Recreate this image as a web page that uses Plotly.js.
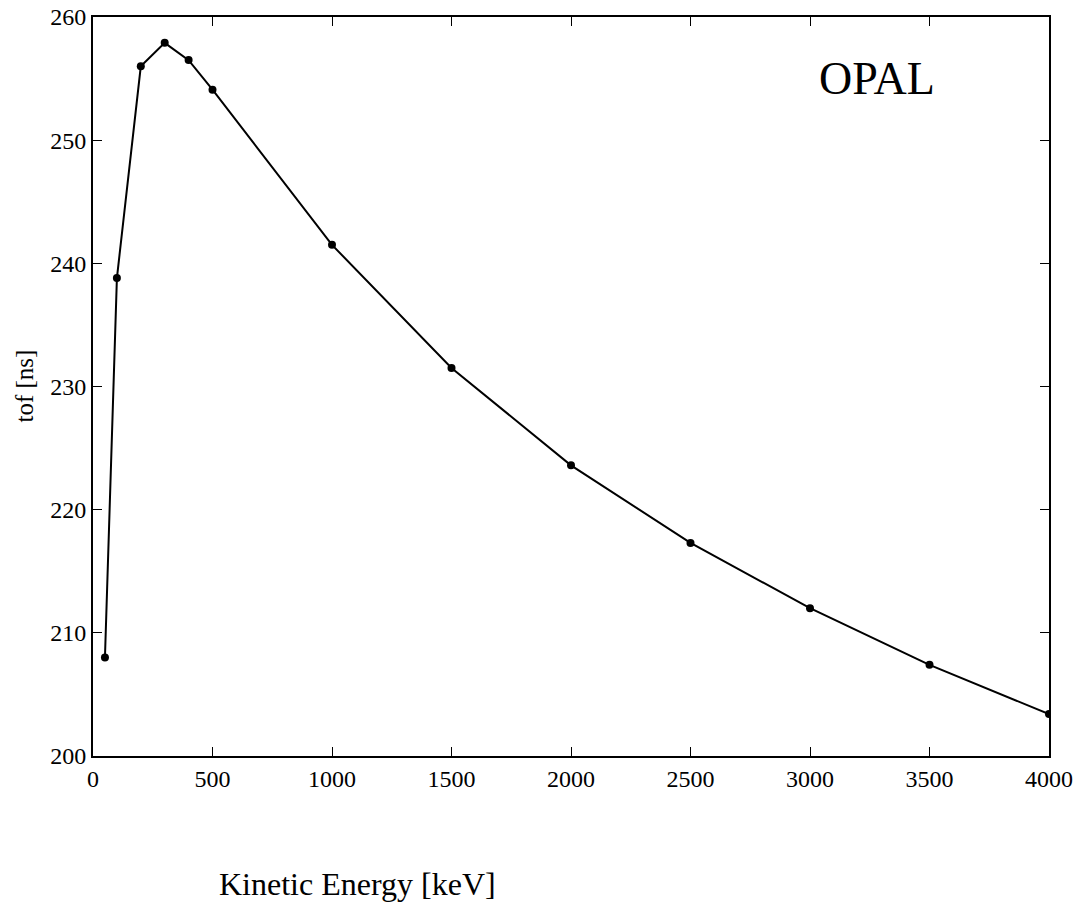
<!DOCTYPE html>
<html>
<head>
<meta charset="utf-8">
<script src="https://cdn.plot.ly/plotly-3.0.1.min.js"></script>
<style>html,body{margin:0;padding:0;background:#fff;}</style>
</head>
<body>
<div id="chart" style="width:1087px;height:902px;"></div>
<script>
const energy_keV = [50, 100, 200, 300, 400, 500, 1000, 1500, 2000, 2500, 3000, 3500, 4000];
const tof_ns = [208.0, 238.8, 256.0, 257.9, 256.5, 254.1, 241.5, 231.5, 223.6, 217.3, 212.0, 207.4, 203.4];
const xTicks = [0, 500, 1000, 1500, 2000, 2500, 3000, 3500, 4000];
const yTicks = [200, 210, 220, 230, 240, 250, 260];

const serif = "Liberation Serif, DejaVu Serif, serif";

const trace = {
  x: energy_keV,
  y: tof_ns,
  type: 'scatter',
  mode: 'lines+markers',
  line: {color: '#000', width: 2},
  marker: {color: '#000', size: 8},
  cliponaxis: true,
  hoverinfo: 'skip'
};

const axisCommon = {
  showgrid: false,
  zeroline: false,
  showline: true,
  linecolor: '#000',
  linewidth: 2,
  mirror: 'ticks',
  ticks: 'inside',
  ticklen: 9,
  tickwidth: 1,
  tickcolor: '#000',
  tickfont: {family: serif, size: 24, color: '#000'}
};

const layout = {
  width: 1087,
  height: 902,
  margin: {l: 93, r: 38, t: 17, b: 146},
  paper_bgcolor: '#fff',
  plot_bgcolor: '#fff',
  showlegend: false,
  xaxis: Object.assign({}, axisCommon, {
    range: [0, 4000],
    tickmode: 'array',
    tickvals: xTicks,
    ticktext: xTicks.map(String)
  }),
  yaxis: Object.assign({}, axisCommon, {
    range: [200, 260],
    tickmode: 'array',
    tickvals: yTicks,
    ticktext: yTicks.map(String)
  }),
  annotations: [
    {
      text: 'OPAL', xref: 'paper', yref: 'paper',
      x: (877 - 93) / (1087 - 93 - 38), y: 1 - (79 - 17) / (902 - 17 - 146),
      xanchor: 'center', yanchor: 'middle', showarrow: false,
      font: {family: serif, size: 46, color: '#000'}
    },
    {
      text: 'Kinetic Energy [keV]', xref: 'paper', yref: 'paper',
      x: (357 - 93) / (1087 - 93 - 38), y: -(884 - 756) / (902 - 17 - 146),
      xanchor: 'center', yanchor: 'middle', showarrow: false,
      font: {family: serif, size: 32, color: '#000'}
    },
    {
      text: 'tof [ns]', xref: 'paper', yref: 'paper',
      x: -(93 - 24) / (1087 - 93 - 38), y: 0.5,
      xanchor: 'center', yanchor: 'middle', showarrow: false, textangle: -90,
      font: {family: serif, size: 25, color: '#000'}
    }
  ]
};

Plotly.newPlot('chart', [trace], layout, {displayModeBar: false, staticPlot: true});
</script>
</body>
</html>
